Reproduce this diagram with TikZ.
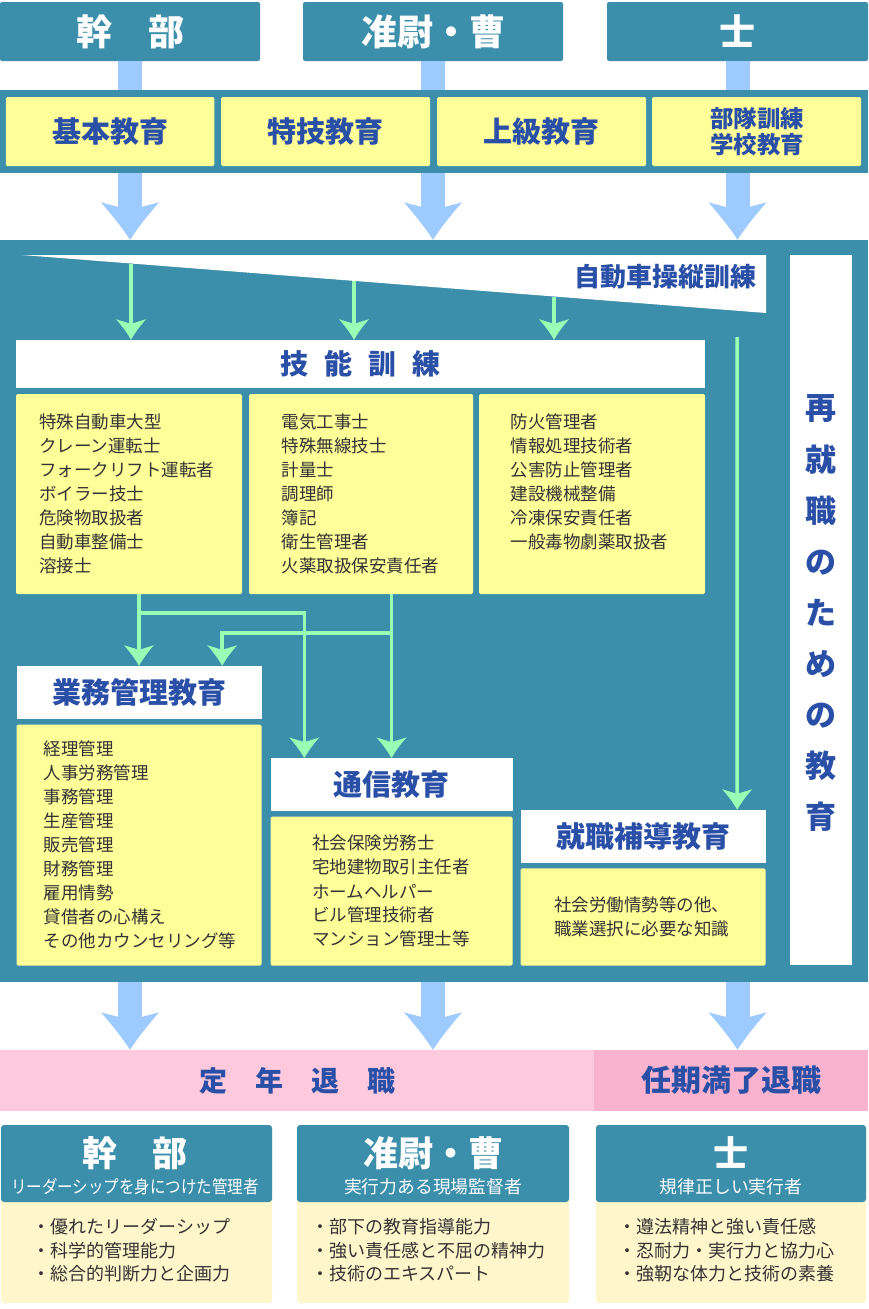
\documentclass[tikz,border=0pt]{standalone}
\usepackage{fontspec}
\setmainfont{Noto Sans CJK JP}
\definecolor{teal1}{HTML}{3B8FAB}
\definecolor{lblue}{HTML}{9ECBFF}
\definecolor{yel}{HTML}{FFFF99}
\definecolor{grn}{HTML}{99FFB4}
\definecolor{navy1}{HTML}{2A4FA6}
\definecolor{pink1}{HTML}{FEC9DD}
\definecolor{pink2}{HTML}{F9B3CE}
\definecolor{pyel}{HTML}{FFF7CB}
\definecolor{dtxt}{HTML}{333333}
\pgfdeclarearrow{
  name = BlueHead,
  setup code = {
    \pgfarrowssettipend{0pt}
    \pgfarrowssetbackend{-37.5pt}
    \pgfarrowssetlineend{-30pt}
  },
  drawing code = {
    \pgfpathmoveto{\pgfqpoint{0pt}{0pt}}
    \pgfpathcurveto{\pgfqpoint{-14pt}{9pt}}{\pgfqpoint{-27pt}{20pt}}{\pgfqpoint{-37.5pt}{29pt}}
    \pgfpathcurveto{\pgfqpoint{-35.5pt}{22pt}}{\pgfqpoint{-34pt}{16pt}}{\pgfqpoint{-33pt}{12pt}}
    \pgfpathlineto{\pgfqpoint{-33pt}{-12pt}}
    \pgfpathcurveto{\pgfqpoint{-34pt}{-16pt}}{\pgfqpoint{-35.5pt}{-22pt}}{\pgfqpoint{-37.5pt}{-29pt}}
    \pgfpathcurveto{\pgfqpoint{-27pt}{-20pt}}{\pgfqpoint{-14pt}{-9pt}}{\pgfqpoint{0pt}{0pt}}
    \pgfpathclose
    \pgfusepathqfill
  }
}
\pgfdeclarearrow{
  name = GreenHead,
  setup code = {
    \pgfarrowssettipend{0pt}
    \pgfarrowssetbackend{-20.6pt}
    \pgfarrowssetlineend{-10pt}
  },
  drawing code = {
    \pgfpathmoveto{\pgfqpoint{0pt}{0pt}}
    \pgfpathcurveto{\pgfqpoint{-8pt}{4.5pt}}{\pgfqpoint{-15pt}{10pt}}{\pgfqpoint{-20.6pt}{15pt}}
    \pgfpathcurveto{\pgfqpoint{-19pt}{10pt}}{\pgfqpoint{-17.5pt}{5pt}}{\pgfqpoint{-16.5pt}{1.8pt}}
    \pgfpathlineto{\pgfqpoint{-16.5pt}{-1.8pt}}
    \pgfpathcurveto{\pgfqpoint{-17.5pt}{-5pt}}{\pgfqpoint{-19pt}{-10pt}}{\pgfqpoint{-20.6pt}{-15pt}}
    \pgfpathcurveto{\pgfqpoint{-15pt}{-10pt}}{\pgfqpoint{-8pt}{-4.5pt}}{\pgfqpoint{0pt}{0pt}}
    \pgfpathclose
    \pgfusepathqfill
  }
}
\begin{document}
\begin{tikzpicture}[x=1pt,y=-1pt,
  tbox/.style={fill=teal1,inner sep=0pt,rounded corners=2pt},
  ybox/.style={fill=yel,inner sep=0pt,rounded corners=1.5pt},
  wbox/.style={fill=white,inner sep=0pt},
  hdr/.style={text=white,font=\bfseries\fontsize{36}{40}\selectfont},
  ttl/.style={text=navy1,font=\bfseries\fontsize{29}{32}\selectfont},
  lst/.style={text=dtxt,font=\fontsize{17.5}{20}\selectfont,anchor=west,inner sep=0pt},
  bul/.style={text=dtxt,font=\fontsize{18}{20}\selectfont,anchor=west,inner sep=0pt},
  bbar/.style={color=lblue,line width=24pt},
  barr/.style={color=lblue,line width=24pt,arrows={-BlueHead}},
  garr/.style={color=grn,line width=3.5pt,arrows={-GreenHead}},
]
\useasboundingbox (0,0) rectangle (868,1309);
\fill[white] (0,0) rectangle (868,1309);

% header row
\node[tbox,hdr,minimum width=260pt,minimum height=59pt] (h1) at (130,31.5) {幹　部};
\node[tbox,hdr,minimum width=260pt,minimum height=59pt] (h2) at (433,31.5) {准尉・曹};
\node[tbox,hdr,minimum width=261pt,minimum height=59pt] (h3) at (737.5,31.5) {士};

% band with basic education
\node[fill=teal1,inner sep=0pt,minimum width=868pt,minimum height=83pt] (band) at (434,131.5) {};
\draw[bbar] (h1.south) -- (h1.south |- band.north);
\draw[bbar] (h2.south) -- (h2.south |- band.north);
\draw[bbar] (h3.south) -- (h3.south |- band.north);
\node[ybox,ttl,minimum width=208.5pt,minimum height=69pt] (e1) at (110,131.5) {基本教育};
\node[ybox,ttl,minimum width=209pt,minimum height=69pt] (e2) at (325.5,131.5) {特技教育};
\node[ybox,ttl,minimum width=209pt,minimum height=69pt] (e3) at (541.5,131.5) {上級教育};
\node[ybox,minimum width=209pt,minimum height=69pt] (e4) at (756.5,131.5) {};
\node[text=navy1,font=\bfseries\fontsize{23.5}{26}\selectfont,align=center,inner sep=0pt] (e4t) at (757,131.5) {部隊訓練\\学校教育};

% big teal area
\node[fill=teal1,inner sep=0pt,minimum width=868pt,minimum height=742pt] (big) at (434,611) {};
\draw[barr] (band.south -| h1.south) -- (big.north -| h1.south);
\draw[barr] (band.south -| h2.south) -- (big.north -| h2.south);
\draw[barr] (band.south -| h3.south) -- (big.north -| h3.south);

% wedge
\fill[white] (22,255) -- (766,255) -- (766,313) -- cycle;
\node[text=navy1,font=\bfseries\fontsize{26}{28}\selectfont,anchor=east,inner sep=0pt] (wt) at (757,277) {自動車操縦訓練};
\coordinate (wa) at (131,263.5);
\coordinate (wb) at (354,281);
\coordinate (wc) at (554,296.5);

% right vertical box
\node[wbox,minimum width=62pt,minimum height=710pt] (rb) at (821,610) {};
\node[text=navy1,font=\bfseries\fontsize{31}{51}\selectfont,align=center,inner sep=0pt] (rbt) at (821,613) {再\\就\\職\\の\\た\\め\\の\\教\\育};

% skill training
\node[wbox,minimum width=689pt,minimum height=48pt,text=navy1,font=\bfseries\fontsize{28}{30}\selectfont] (sk) at (360.5,364) {技\hspace{16pt}能\hspace{16pt}訓\hspace{16pt}練};
\draw[garr] (wa) -- (wa |- sk.north);
\draw[garr] (wb) -- (wb |- sk.north);
\draw[garr] (wc) -- (wc |- sk.north);

\node[ybox,minimum width=226pt,minimum height=200pt] (s1) at (129,494) {};
\node[ybox,minimum width=224pt,minimum height=200pt] (s2) at (361,494) {};
\node[ybox,minimum width=226pt,minimum height=200pt] (s3) at (592,494) {};
\foreach \t [count=\i] in {特殊自動車大型,クレーン運転士,フォークリフト運転者,ボイラー技士,危険物取扱者,自動車整備士,溶接士}
  \node[lst] (sa\i) at (39,{422+24*(\i-1)}) {\t};
\foreach \t [count=\i] in {電気工事士,特殊無線技士,計量士,調理師,簿記,衛生管理者,火薬取扱保安責任者}
  \node[lst] (sb\i) at (281.5,{422+24*(\i-1)}) {\t};
\foreach \t [count=\i] in {防火管理者,情報処理技術者,公害防止管理者,建設機械整備,冷凍保安責任者,一般毒物劇薬取扱者}
  \node[lst] (sc\i) at (510.5,{422+24*(\i-1)}) {\t};

% business management education
\node[wbox,ttl,minimum width=245pt,minimum height=52.6pt] (g) at (139,692.3) {業務管理教育};
\node[ybox,minimum width=245pt,minimum height=241pt] (gl) at (139,845) {};
\foreach \t [count=\i] in {経理管理,人事労務管理,事務管理,生産管理,販売管理,財務管理,雇用情勢,貸借者の心構え,その他カウンセリング等}
  \node[lst] (ga\i) at (43.5,{749+24*(\i-1)}) {\t};

% communication education
\node[wbox,ttl,minimum width=242pt,minimum height=52.5pt] (t) at (391.5,784.5) {通信教育};
\node[ybox,minimum width=242pt,minimum height=149pt] (tl) at (391.5,891.2) {};
\foreach \t [count=\i] in {社会保険労務士,宅地建物取引主任者,ホームヘルパー,ビル管理技術者,マンション管理士等}
  \node[lst] (ta\i) at (312,{843.3+24*(\i-1)}) {\t};

% employment guidance
\node[wbox,ttl,minimum width=245pt,minimum height=52.6pt] (j) at (643,836.3) {就職補導教育};
\node[ybox,minimum width=245pt,minimum height=97.4pt] (jl) at (643,917) {};
\node[lst] (ja1) at (554,905) {社会労働情勢等の他、};
\node[lst] (ja2) at (554,929.3) {職業選択に必要な知識};

% green connectors
\coordinate (j1) at (139,613);
\coordinate (j2) at (392,633);
\coordinate (jst) at (737,337);
\draw[garr] (g.north |- s1.south) -- (g.north);
\draw[garr] (j1) -| ([xshift=34pt]t.north west);
\draw[garr] (t.north |- s2.south) -- (t.north);
\draw[garr] (j2) -| ([xshift=-39.5pt]g.north east);
\draw[garr] (jst) -- ([xshift=-28.5pt]j.north east);

% retirement band
\node[fill=pink1,inner sep=0pt,minimum width=594pt,minimum height=61pt,text=navy1,font=\bfseries\fontsize{28}{30}\selectfont] (p1) at (297,1080.5) {定　年　退　職};
\node[fill=pink2,inner sep=0pt,minimum width=274pt,minimum height=61pt,text=navy1,font=\bfseries\fontsize{30}{32}\selectfont] (p2) at (731,1080.5) {任期満了退職};
\draw[barr] (big.south -| h1.south) -- (p1.north -| h1.south);
\draw[barr] (big.south -| h2.south) -- (p1.north -| h2.south);
\draw[barr] (big.south -| h3.south) -- (p2.north -| h3.south);

% bottom boxes
\node[fill=pyel,inner sep=0pt,rounded corners=3pt,minimum width=271pt,minimum height=178pt] (k1b) at (136.5,1214) {};
\node[fill=pyel,inner sep=0pt,rounded corners=3pt,minimum width=272pt,minimum height=178pt] (k2b) at (433,1214) {};
\node[fill=pyel,inner sep=0pt,rounded corners=3pt,minimum width=270pt,minimum height=178pt] (k3b) at (731,1214) {};
\node[tbox,rounded corners=3pt,minimum width=271pt,minimum height=77pt] (k1) at (136.5,1163.5) {};
\node[tbox,rounded corners=3pt,minimum width=272pt,minimum height=77pt] (k2) at (433,1163.5) {};
\node[tbox,rounded corners=3pt,minimum width=270pt,minimum height=77pt] (k3) at (731,1163.5) {};
\node[hdr,font=\bfseries\fontsize{35}{38}\selectfont,inner sep=0pt] (k1t) at (135,1153) {幹　部};
\node[hdr,font=\bfseries\fontsize{35}{38}\selectfont,inner sep=0pt] (k2t) at (433,1153) {准尉・曹};
\node[hdr,font=\bfseries\fontsize{35}{38}\selectfont,inner sep=0pt] (k3t) at (731,1153) {士};
\node[text=white,font=\fontsize{17.8}{20}\selectfont,inner sep=0pt] (k1s) at (135,1187) {\scalebox{0.87}[1]{リーダーシップを身につけた管理者}};
\node[text=white,font=\fontsize{17.8}{20}\selectfont,inner sep=0pt] (k2s) at (433,1187) {実行力ある現場監督者};
\node[text=white,font=\fontsize{17.8}{20}\selectfont,inner sep=0pt] (k3s) at (731,1187) {規律正しい実行者};
\foreach \t [count=\i] in {・優れたリーダーシップ,・科学的管理能力,・総合的判断力と企画力}
  \node[bul] (ka\i) at (32.5,{1227+23.5*(\i-1)}) {\t};
\foreach \t [count=\i] in {・部下の教育指導能力,・強い責任感と不屈の精神力,・技術のエキスパート}
  \node[bul] (kb\i) at (311,{1227+23.5*(\i-1)}) {\t};
\foreach \t [count=\i] in {・遵法精神と強い責任感,・忍耐力・実行力と協力心,・強靭な体力と技術の素養}
  \node[bul] (kc\i) at (618,{1227+23.5*(\i-1)}) {\t};
\end{tikzpicture}
\end{document}
